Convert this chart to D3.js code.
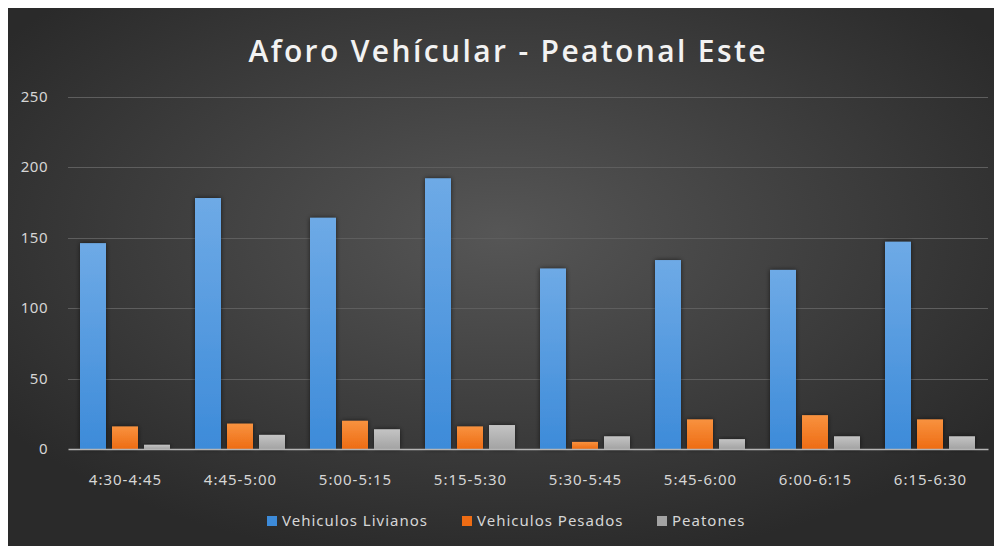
<!DOCTYPE html>
<html>
<head>
<meta charset="utf-8">
<script src="https://cdn.jsdelivr.net/npm/d3@7"></script>
<style>
  body { margin: 0; background: #fff; }
  svg { display: block; }
  text { font-family: "Noto Sans", "Open Sans", sans-serif; }
</style>
</head>
<body>
<div id="chart"></div>
<script>
var categories = ['4:30-4:45', '4:45-5:00', '5:00-5:15', '5:15-5:30', '5:30-5:45', '5:45-6:00', '6:00-6:15', '6:15-6:30'];
var series = ['Vehiculos Livianos', 'Vehiculos Pesados', 'Peatones'];
var livianos = [146, 178, 164, 192, 128, 134, 127, 147];
var pesados = [16, 18, 20, 16, 5, 21, 24, 21];
var peatones = [3, 10, 14, 17, 9, 7, 9, 9];
var yTicks = [0, 50, 100, 150, 200, 250];

var width = 994, height = 546;
var values = [livianos, pesados, peatones];
var colors = [['#6eaae6', '#3d8bd9'], ['#f8923f', '#ee6c14'], ['#c4c4c4', '#a3a3a3']];

var svg = d3.select('#chart').append('svg')
    .attr('width', width).attr('height', height);

var defs = svg.append('defs');
var bg = defs.append('radialGradient').attr('id', 'bg')
    .attr('cx', '50%').attr('cy', '42%').attr('r', '62%');
bg.append('stop').attr('offset', '0%').attr('stop-color', '#565656');
bg.append('stop').attr('offset', '100%').attr('stop-color', '#2a2a2a');

colors.forEach(function(c, i) {
    var g = defs.append('linearGradient').attr('id', 'bar' + i)
        .attr('x1', 0).attr('y1', 0).attr('x2', 0).attr('y2', 1);
    g.append('stop').attr('offset', '0%').attr('stop-color', c[0]);
    g.append('stop').attr('offset', '100%').attr('stop-color', c[1]);
});

var shadow = defs.append('filter').attr('id', 'shadow')
    .attr('x', '-30%').attr('y', '-30%').attr('width', '160%').attr('height', '160%');
shadow.append('feDropShadow').attr('dx', 0).attr('dy', 0).attr('stdDeviation', 2.5)
    .attr('flood-color', '#000').attr('flood-opacity', 0.6);

svg.append('rect').attr('x', 8).attr('y', 8)
    .attr('width', width - 8).attr('height', height - 8)
    .attr('fill', 'url(#bg)');

var x0 = d3.scaleBand().domain(categories).range([68, 988]);
var x1 = d3.scaleBand().domain(series).range([12, 102]).paddingInner(0.1875);
var y = d3.scaleLinear().domain([0, 250]).range([449, 96.5]);

// gridlines
svg.append('g').selectAll('line')
    .data(yTicks.filter(function(t) { return t > 0; }))
    .enter().append('line')
    .attr('x1', 68).attr('x2', 988)
    .attr('y1', function(d) { return Math.round(y(d)) + 0.5; })
    .attr('y2', function(d) { return Math.round(y(d)) + 0.5; })
    .attr('stroke', '#5e5e5e').attr('stroke-width', 1);

// y axis labels
var yAxis = d3.axisLeft(y).tickValues(yTicks).tickSize(0).tickPadding(0);
var ya = svg.append('g').attr('transform', 'translate(48,0)').call(yAxis);
ya.select('.domain').remove();
ya.selectAll('text').attr('fill', '#d6d6d6')
    .style('font-size', '15px').style('letter-spacing', '0.5px');

// bars
var groups = svg.append('g').selectAll('g')
    .data(categories).enter().append('g')
    .attr('transform', function(d) { return 'translate(' + x0(d) + ',0)'; });

groups.selectAll('rect')
    .data(function(d, i) { return series.map(function(s, j) { return {s: s, j: j, v: values[j][i]}; }); })
    .enter().append('rect')
    .attr('x', function(d) { return x1(d.s); })
    .attr('width', x1.bandwidth())
    .attr('y', function(d) { return y(d.v); })
    .attr('height', function(d) { return y(0) - y(d.v); })
    .attr('fill', function(d) { return 'url(#bar' + d.j + ')'; })
    .attr('filter', 'url(#shadow)');

// x axis
var xAxis = d3.axisBottom(x0).tickSize(0).tickPadding(0);
var xa = svg.append('g').attr('transform', 'translate(0,' + y(0) + ')').call(xAxis);
xa.select('.domain').attr('stroke', '#b5b5b5').attr('stroke-width', 1.5);
xa.selectAll('text').attr('fill', '#d6d6d6')
    .style('font-size', '15px').style('letter-spacing', '1px')
    .attr('dy', null).attr('y', 36);

// title
svg.append('text')
    .attr('x', 507).attr('y', 62)
    .attr('text-anchor', 'middle')
    .attr('fill', '#f2f2f2')
    .attr('textLength', 517).attr('lengthAdjust', 'spacing')
    .style('font-family', '"Open Sans", sans-serif')
    .style('font-weight', 600)
    .style('font-size', '30px')
    .text('Aforo Vehícular - Peatonal Este');

// legend
var legendX = [267, 462, 657];
var legend = svg.append('g').selectAll('g')
    .data(series).enter().append('g')
    .attr('transform', function(d, i) { return 'translate(' + legendX[i] + ',521)'; });
legend.append('rect').attr('x', 0).attr('y', -5).attr('width', 10).attr('height', 10)
    .attr('fill', function(d, i) { return colors[i][1]; });
legend.append('text').attr('x', 15).attr('y', 5)
    .attr('fill', '#d6d6d6').style('font-size', '15px').style('letter-spacing', '1px')
    .text(function(d) { return d; });
</script>
</body>
</html>
